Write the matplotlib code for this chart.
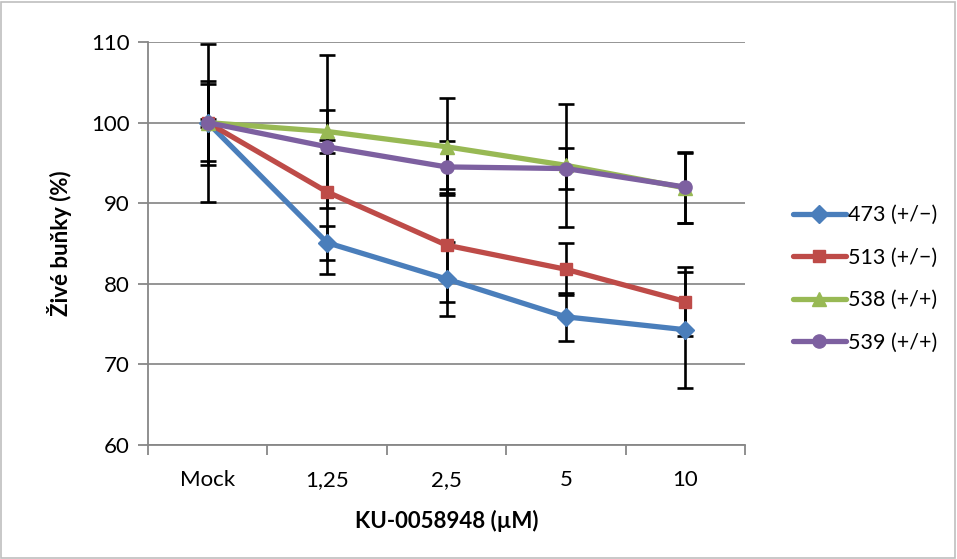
import matplotlib
matplotlib.use("Agg")
import matplotlib.pyplot as plt
from matplotlib.patches import Rectangle
import numpy as np

categories = ["Mock", "1,25", "2,5", "5", "10"]
series_names = ["473 (+/\u2212)", "513 (+/\u2212)", "538 (+/+)", "539 (+/+)"]
v473 = [100, 85.1, 80.6, 75.9, 74.3]
v513 = [100, 91.4, 84.8, 81.8, 77.8]
v538 = [100, 98.9, 97.0, 94.7, 91.9]
v539 = [100, 97.0, 94.5, 94.3, 92.0]
e473 = [5.2, 2.1, 4.6, 3.0, 7.2]
e513 = [4.8, 10.2, 7.0, 3.2, 4.3]
e538 = [9.8, 9.5, 6.0, 7.6, 4.3]
e539 = [0.5, 0.8, 3.2, 2.6, 4.4]
yticks = [60, 70, 80, 90, 100, 110]

colors = ["#4A7EBB", "#BE4B48", "#98B954", "#7D60A0"]
markers = ["D", "s", "^", "o"]
msizes = [9, 9, 10, 9.5]

plt.rcParams['font.family'] = ['Lato', 'DejaVu Sans']
FS = 16

W, H = 957, 559
fig = plt.figure(figsize=(W/100, H/100), dpi=100)
fig.patches.append(Rectangle((1/W, 1/H), 1-3/W, 1-3/H, transform=fig.transFigure,
                             fill=False, edgecolor="#BFBFBF", linewidth=1.2))
ax = fig.add_axes([148/W, 1-445/H, (745-148)/W, (445-42)/H])

x = np.arange(len(categories)) + 0.5
for vals, errs in zip([v473, v513, v538, v539], [e473, e513, e538, e539]):
    ax.errorbar(x, vals, yerr=errs, fmt="none", ecolor="black", elinewidth=1.9,
                capsize=6, capthick=1.9, zorder=2)
for vals, c, m, ms, name in zip([v473, v513, v538, v539], colors, markers, msizes, series_names):
    ax.plot(x, vals, color=c, marker=m, markersize=ms, linewidth=3.8, label=name,
            zorder=3, solid_capstyle="round")

ax.set_xlim(0, 5)
ax.set_ylim(60, 110)
ax.set_yticks(yticks)
ax.set_yticklabels([str(t) for t in yticks], fontsize=FS)
ax.set_xticks(x)
ax.set_xticklabels(categories, fontsize=FS)
ax.tick_params(axis="x", which="major", length=0, pad=18)
ax.set_xticks(np.arange(0, 6), minor=True)
ax.tick_params(axis="x", which="minor", length=7, color="#878787", width=1.3)
ax.tick_params(axis="y", length=7, color="#878787", width=1.3, pad=6)
ax.grid(axis="y", color="#8C8C8C", linewidth=1.3, zorder=0)
ax.set_axisbelow(True)
for s in ["top", "right"]:
    ax.spines[s].set_visible(False)
for s in ["left", "bottom"]:
    ax.spines[s].set_color("#878787")
    ax.spines[s].set_linewidth(1.3)

ax.set_ylabel("Živé buňky (%)", fontsize=FS, fontweight="bold", labelpad=14)
ax.set_xlabel("KU-0058948 (µM)", fontsize=FS, fontweight="bold", labelpad=14)

leg = ax.legend(loc="center left", bbox_to_anchor=(782/W, 1-279/H), bbox_transform=fig.transFigure,
                frameon=False, fontsize=15.5, handlelength=2.45, handletextpad=0.12,
                labelspacing=1.05, borderpad=0)

fig.savefig("out.png", dpi=100)
